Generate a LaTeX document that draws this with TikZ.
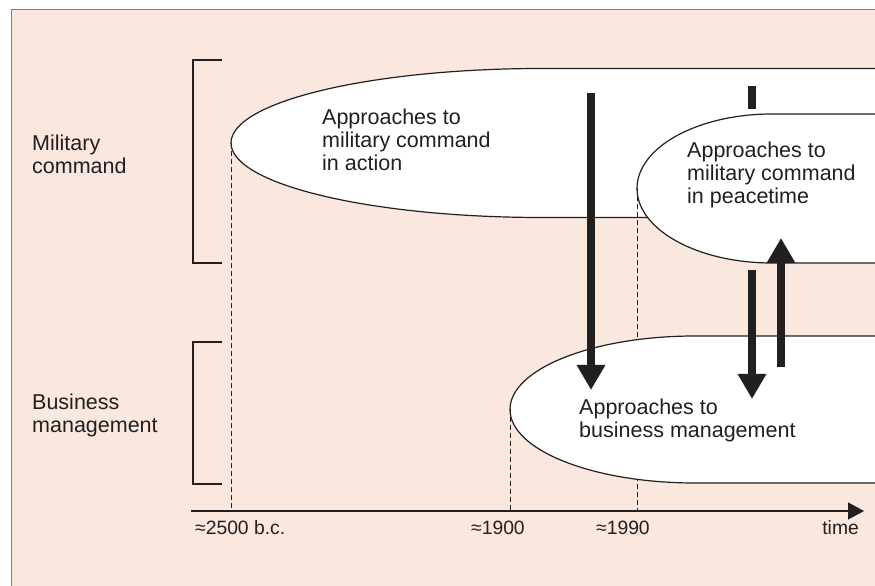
\documentclass[tikz,border=0pt]{standalone}
\usepackage{fontspec}
\setmainfont{Liberation Sans}
\usepackage{tikz}
\usetikzlibrary{arrows.meta,positioning,calc}
\usepackage{xcolor}
\definecolor{bgpeach}{RGB}{250,231,222}
\definecolor{frameorange}{RGB}{214,92,60}
\definecolor{inkgray}{RGB}{35,31,32}
\tikzstyle{approach} = [draw=inkgray, fill=white, line width=1.2pt]
\tikzstyle{bigarrow} = [line width=8pt, color=inkgray, -{Triangle[length=25pt,width=27pt]}]
\tikzstyle{guide} = [draw=inkgray, line width=1pt, dash pattern=on 5pt off 3pt]
\tikzstyle{bracket} = [draw=inkgray, line width=1.2pt]
\tikzstyle{areatext} = [anchor=base west, inner sep=0pt, align=left, font=\fontsize{21.5}{23}\selectfont, text=inkgray]
\tikzstyle{yeartext} = [anchor=base west, inner sep=0pt, font=\fontsize{19.3}{22}\selectfont, text=inkgray]

\begin{document}
\begin{tikzpicture}[x=1pt,y=1pt]
\useasboundingbox (0,0) rectangle (875,586);
\clip (0,0) rectangle (875,586);
\fill[white] (0,0) rectangle (875,586);
\filldraw[fill=bgpeach, draw=frameorange, line width=1pt] (11,-10) rectangle (890,576);

% the three fields of approaches
\path[approach] (880,517.5) -- (542,517.5) arc[start angle=90, end angle=270, x radius=311, y radius=74.5] -- (880,368.5);
\coordinate (tipA) at (231,443);
\path[approach] (880,472) -- (772,472) arc[start angle=90, end angle=270, x radius=135, y radius=74.5] -- (880,323);
\coordinate (tipP) at (637,397.5);

\coordinate (t0) at (191,75);
\coordinate (t1) at (864,75);
\draw[guide] (tipA) -- (tipA |- t0);
\draw[guide] (tipP) -- (tipP |- t0);

\path[approach] (880,250) -- (695,250) arc[start angle=90, end angle=270, x radius=185, y radius=73.5] -- (880,103);
\coordinate (tipB) at (510,176.5);
\draw[guide] (tipB) -- (tipB |- t0);

% time axis
\draw[line width=1.3pt, inkgray, -{Triangle[length=16pt,width=17pt]}] (t0) -- (t1);

% brackets
\draw[bracket] (222,526) -| (193,323) -- (222,323);
\draw[bracket] (222,244) -| (193,102) -- (222,102);

% transfer arrows
\coordinate (a1s) at (591,493);
\coordinate (a1e) at (591,196);
\coordinate (bars) at (752,500);
\coordinate (bare) at (752,477);
\coordinate (a2s) at (752,316);
\coordinate (a2e) at (752,187);
\coordinate (a3s) at (781,219);
\coordinate (a3e) at (781,348);
\draw[bigarrow] (a1s) -- (a1e);
\draw[bigarrow, -] (bars) -- (bare);
\draw[bigarrow] (a2s) -- (a2e);
\draw[bigarrow] (a3s) -- (a3e);

% texts (base = last line)
\node[areatext] (military) at (32,412) {Military\\command};
\node[areatext] (business) at (32,153) {Business\\management};
\node[areatext] (action) at (322,415) {Approaches to\\military command\\in action};
\node[areatext] (peace) at (687,382) {Approaches to\\military command\\in peacetime};
\node[areatext] (bizapp) at (579,148) {Approaches to\\business management};

\node[yeartext] (y2500) at (195,51) {≈2500 b.c.};
\node[yeartext] (y1900) at (471,51) {≈1900};
\node[yeartext] (y1990) at (596,51) {≈1990};
\node[yeartext, anchor=base east] (ytime) at (859,51) {time};
\end{tikzpicture}
\end{document}
